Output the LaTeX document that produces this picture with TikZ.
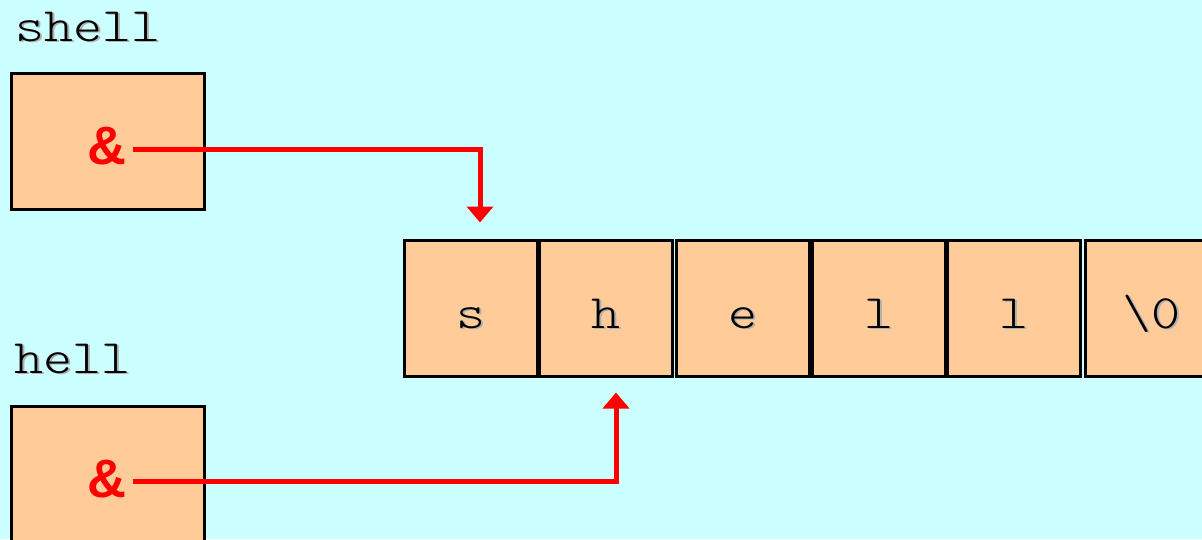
\documentclass[tikz,border=0pt]{standalone}
\usepackage{fontspec}
\usepackage{graphicx}
\setsansfont{Liberation Sans}
\newfontfamily\lmlight{lmmonolt10-regular.otf}
\usetikzlibrary{arrows.meta}
\definecolor{bgc}{HTML}{CCFFFF}
\definecolor{boxc}{HTML}{FFCC99}
\definecolor{shad}{HTML}{B0B0B0}
\newcommand{\shtext}[1]{\scalebox{1.15}[1]{\makebox[0pt][l]{\hspace{1.8pt}\raisebox{-1.8pt}{\textcolor{shad}{#1}}}#1}}
\begin{document}
\begin{tikzpicture}[x=1pt,y=1pt,
  ptrbox/.style={draw=black,line width=3pt,fill=boxc,minimum width=193pt,minimum height=136pt,inner sep=0pt},
  cell/.style={draw=black,line width=3pt,fill=boxc,minimum width=133pt,minimum height=136pt,inner sep=0pt,text height=40pt,text depth=0pt,font=\fontsize{48}{52}\selectfont\lmlight},
  lbl/.style={anchor=base west,inner sep=0pt,font=\fontsize{48}{52}\selectfont\lmlight},
  amp/.style={inner sep=0pt,text=red,font=\fontsize{54}{58}\selectfont\sffamily\bfseries},
  ptr/.style={draw=red,line width=5pt,-{Triangle[length=16pt,width=26pt]}}]
\useasboundingbox (0,0) rectangle (1202,-539);
\clip (0,0) rectangle (1202,-539);
\fill[bgc] (0,0) rectangle (1202,-539);
% labels
\node[lbl] (shelllbl) at (15,-41) {\shtext{shell}};
\node[lbl] (helllbl) at (14,-373) {\shtext{hell}};
% pointer boxes
\node[ptrbox] (shellbox) at (107.5,-141) {};
\node[ptrbox] (hellbox) at (107.5,-474) {};
\node[amp] (amp1) at (107,-146) {\&};
\node[amp] (amp2) at (107,-479) {\&};
% cells
\node[cell] (c1) at (470.5,-308) {\shtext{s}};
\node[cell] (c2) at (606,-308) {\shtext{h}};
\node[cell] (c3) at (743,-308) {\shtext{e}};
\node[cell] (c4) at (878.5,-308) {\shtext{l}};
\node[cell] (c5) at (1014,-308) {\shtext{l}};
\node[cell] (c6) at (1151.5,-308) {\shtext{\textbackslash 0}};
% arrows
\draw[ptr] ([xshift=6pt,yshift=-3pt]amp1.east) -| ([xshift=9.5pt,yshift=16pt]c1.north);
\draw[ptr] ([xshift=6pt,yshift=-2pt]amp2.east) -| ([xshift=10pt,yshift=-15pt]c2.south);
\end{tikzpicture}
\end{document}
